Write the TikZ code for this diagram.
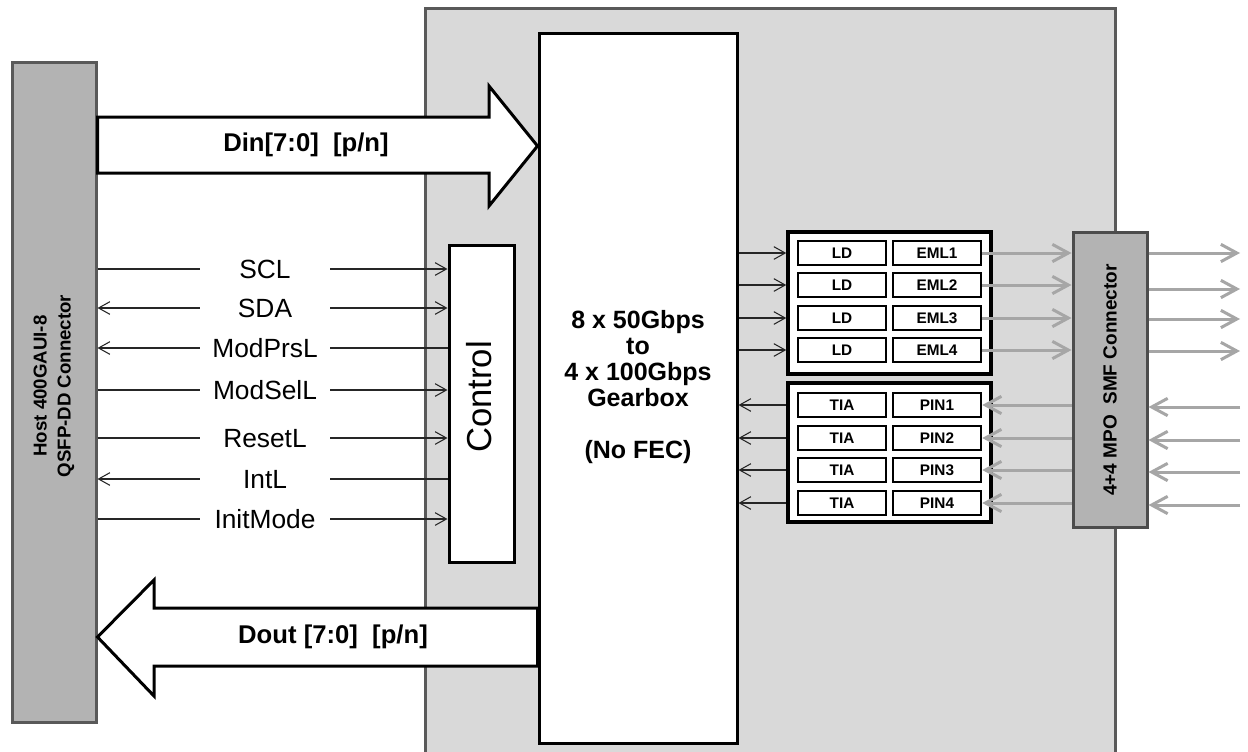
\documentclass[tikz,border=0pt]{standalone}
\usepackage{fontspec}
\setmainfont{Liberation Sans}
\usetikzlibrary{arrows.meta}
\definecolor{modfill}{HTML}{D9D9D9}
\definecolor{modline}{HTML}{595959}
\definecolor{conn}{HTML}{B3B3B3}
\definecolor{fiber}{HTML}{A6A6A6}
\begin{document}
\begin{tikzpicture}[x=0.75pt,y=-0.75pt,
 >={Straight Barb[length=8.5pt,width=9.5pt]},
 modbox/.style={fill=modfill, draw=modline, line width=2.25pt},
 hostbox/.style={fill=conn, draw=modline, line width=2.25pt},
 whitebox/.style={fill=white, draw=black, line width=2.25pt, inner sep=0},
 groupbox/.style={fill=white, draw=black, line width=2.6pt, inner sep=0},
 cell/.style={fill=white, draw=black, line width=1.9pt, minimum width=66pt, minimum height=18pt, inner sep=0, font=\bfseries\fontsize{11.5}{13}\selectfont},
 siglab/.style={minimum width=97.5pt, inner sep=0, text height=14pt, text depth=0pt, font=\fontsize{19.75}{22}\selectfont},
 sig/.style={draw=black!85, line width=0.8pt},
 fib/.style={draw=fiber, line width=2.25pt, -{Straight Barb[length=12pt,width=13pt]}},
 bigarrow/.style={fill=white, draw=black, line width=2.25pt, line join=miter}
]
\clip (0,0) rectangle (1248,751);
\fill[white] (0,0) rectangle (1248,751);

% module and host
\node[modbox, minimum width=517.5pt, minimum height=571.5pt] (module) at (770,389) {};
\node[hostbox, minimum width=63pt, minimum height=495pt] (host) at (54,392) {};
\node[rotate=90, align=center, font=\bfseries\fontsize{14}{18}\selectfont] (hostlab) at (54,386) {Host 400GAUI-8\\QSFP-DD Connector};

% gearbox
\node[whitebox, minimum width=148.5pt, minimum height=532.5pt] (gearbox) at (638,388) {};
\node[align=center, font=\bfseries\fontsize{18.75}{19.5}\selectfont] (gearlab) at (638,387) {8 x 50Gbps\\to\\4 x 100Gbps\\Gearbox\\ \\(No FEC)};

% big data arrows
\draw[bigarrow] (host.east |- 0,117) -- (489,117) -- (489,86) -- (gearbox.west |- 0,146) -- (489,206) -- (489,173) -- (host.east |- 0,173) -- cycle;
\node[font=\bfseries\fontsize{19.25}{20}\selectfont] (din) at (306,145) {Din[7:0]\ \ [p/n]};
\draw[bigarrow] (gearbox.west |- 0,608) -- (154,608) -- (154,580) -- (host.east |- 0,637) -- (154,696) -- (154,666) -- (gearbox.west |- 0,666) -- cycle;
\node[font=\bfseries\fontsize{19.25}{20}\selectfont] (dout) at (333,637) {Dout [7:0]\ \ [p/n]};

% control
\node[whitebox, minimum width=48.75pt, minimum height=237.75pt] (control) at (481.5,403.5) {};
\node[rotate=90, font=\fontsize{26}{28}\selectfont] (controllab) at (479,397) {Control};

% control signals
\node[siglab] (scl) at (265,269) {SCL};
\node[siglab] (sda) at (265,308) {SDA};
\node[siglab] (modprsl) at (265,348) {ModPrsL};
\node[siglab] (modsell) at (265,390) {ModSelL};
\node[siglab] (resetl) at (265,438) {ResetL};
\node[siglab] (intl) at (265,479) {IntL};
\node[siglab] (initmode) at (265,519) {InitMode};

\draw[sig] (host.east |- scl.west) -- (scl.west);
\draw[sig,->] (scl.east) -- (control.west |- scl.east);
\draw[sig,<-] (host.east |- sda.west) -- (sda.west);
\draw[sig,->] (sda.east) -- (control.west |- sda.east);
\draw[sig,<-] (host.east |- modprsl.west) -- (modprsl.west);
\draw[sig] (modprsl.east) -- (control.west |- modprsl.east);
\draw[sig] (host.east |- modsell.west) -- (modsell.west);
\draw[sig,->] (modsell.east) -- (control.west |- modsell.east);
\draw[sig] (host.east |- resetl.west) -- (resetl.west);
\draw[sig,->] (resetl.east) -- (control.west |- resetl.east);
\draw[sig,<-] (host.east |- intl.west) -- (intl.west);
\draw[sig] (intl.east) -- (control.west |- intl.east);
\draw[sig] (host.east |- initmode.west) -- (initmode.west);
\draw[sig,->] (initmode.east) -- (control.west |- initmode.east);

% transmitter and receiver groups
\node[groupbox, minimum width=152.25pt, minimum height=106.5pt] (tx) at (889.5,303) {};
\node[groupbox, minimum width=152.25pt, minimum height=104.25pt] (rx) at (889.5,452.5) {};

\node[cell] (ld1) at (842,253) {LD};
\node[cell] (ld2) at (842,285) {LD};
\node[cell] (ld3) at (842,318) {LD};
\node[cell] (ld4) at (842,350) {LD};
\node[cell] (eml1) at (937,253) {EML1};
\node[cell] (eml2) at (937,285) {EML2};
\node[cell] (eml3) at (937,318) {EML3};
\node[cell] (eml4) at (937,350) {EML4};

\node[cell] (tia1) at (842,405) {TIA};
\node[cell] (tia2) at (842,438) {TIA};
\node[cell] (tia3) at (842,470) {TIA};
\node[cell] (tia4) at (842,503) {TIA};
\node[cell] (pin1) at (937,405) {PIN1};
\node[cell] (pin2) at (937,438) {PIN2};
\node[cell] (pin3) at (937,470) {PIN3};
\node[cell] (pin4) at (937,503) {PIN4};

\foreach \i in {1,...,4}{
  \draw[sig,->] (gearbox.east |- ld\i) -- (tx.west |- ld\i);
  \draw[sig,->] (rx.west |- tia\i) -- (gearbox.east |- tia\i);
}

% MPO connector
\node[fill=conn, draw=black!70, line width=2.25pt, minimum width=55.5pt, minimum height=221.25pt] (mpo) at (1110,379.5) {};
\node[rotate=90, font=\bfseries\fontsize{14.25}{16}\selectfont] (mpolab) at (1110,380) {4+4 MPO\ \ SMF Connector};

\coordinate (o1) at (1240,253);
\coordinate (o2) at (1240,289);
\coordinate (o3) at (1240,319);
\coordinate (o4) at (1240,351);
\coordinate (i1) at (1240,407);
\coordinate (i2) at (1240,440);
\coordinate (i3) at (1240,472);
\coordinate (i4) at (1240,505);

\foreach \i in {1,...,4}{
  \draw[fib] (eml\i.east) -- (mpo.west |- eml\i);
  \draw[fib] (mpo.east |- o\i) -- (o\i);
  \draw[fib] (i\i) -- (mpo.east |- i\i);
  \draw[fib] (mpo.west |- pin\i) -- (pin\i.east);
}
\end{tikzpicture}
\end{document}
